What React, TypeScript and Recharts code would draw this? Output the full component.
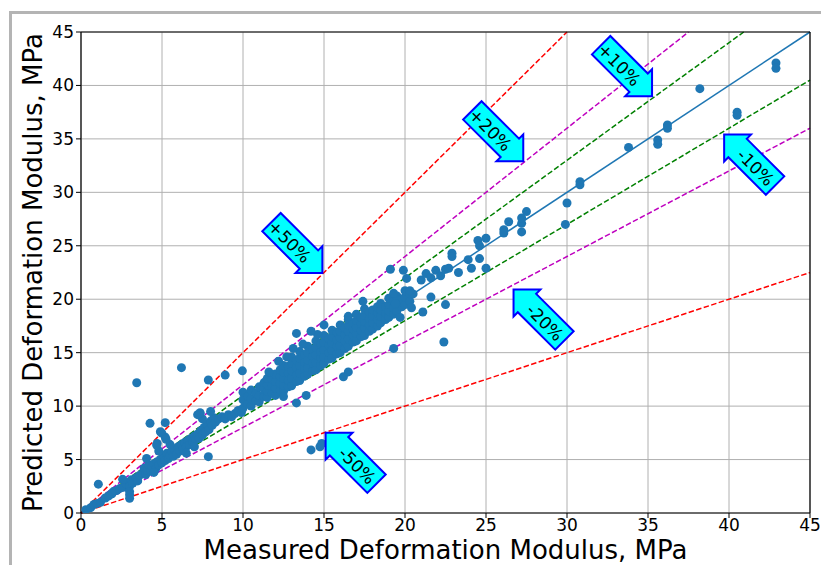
import React from "react";
import {
  CartesianGrid,
  ReferenceDot,
  ReferenceLine,
  Scatter,
  ScatterChart,
  XAxis,
  YAxis,
} from "recharts";

const lowBand: [number, number][] = [
  [0.3, 0.3], [0.6, 0.5], [0.8, 0.8], [1.0, 0.9], [1.2, 1.0], [1.5, 1.4], [1.7, 1.6],
  [1.9, 1.8], [2.0, 2.0], [2.2, 2.1], [2.4, 2.3], [2.6, 2.4], [2.8, 2.7], [3.0, 2.9],
  [3.0, 2.5], [3.0, 2.0], [3.1, 3.1], [3.2, 2.8], [3.4, 3.3], [3.5, 3.0], [3.6, 3.5],
  [3.8, 3.7], [3.9, 4.2], [4.0, 3.6], [4.1, 4.0], [4.2, 4.5], [4.3, 3.9], [4.4, 4.3],
  [4.5, 4.6], [4.6, 4.1], [4.7, 4.8], [4.8, 4.5], [4.9, 5.0], [5.0, 4.7], [5.1, 5.3],
  [5.2, 4.9], [5.3, 5.6], [5.4, 5.1], [5.5, 5.4], [5.6, 5.8], [5.7, 5.3], [5.8, 5.9],
  [5.9, 5.5], [6.0, 6.2], [6.1, 5.8], [6.2, 6.4], [6.3, 6.0], [6.4, 6.6], [6.5, 6.2],
  [6.6, 6.8], [6.7, 6.4], [6.8, 7.0], [6.9, 6.6], [7.0, 7.2], [7.1, 6.9], [7.2, 7.4],
  [7.3, 7.0], [7.4, 7.7], [7.5, 7.3], [7.6, 8.0], [7.7, 7.6], [7.8, 8.3], [7.9, 7.8],
  [8.0, 8.6], [8.1, 8.2], [8.2, 8.9], [8.3, 8.5], [8.5, 8.8], [8.7, 9.0], [8.9, 8.8],
  [9.1, 9.2], [9.3, 9.0], [9.5, 9.3], [9.7, 9.6], [9.9, 9.4], [6.5, 5.6], [7.0, 6.2],
  [4.5, 3.8], [5.5, 6.4], [4.8, 5.8], [7.5, 8.8], [8.0, 9.5], [7.35, 9.3], [7.2, 9.2],
  [4.9, 7.6], [5.2, 7.1], [4.7, 6.5], [4.05, 5.1], [3.0, 1.7], [1.9, 1.8], [1.7, 1.6],
];

const midBand: [number, number][] = [
  [10.0, 9.8], [10.0, 10.6], [10.0, 11.3], [10.3, 10.2], [10.3, 10.9], [10.5, 10.0],
  [10.5, 10.7], [10.5, 11.5], [10.8, 10.5], [10.8, 11.2], [11.0, 10.4], [11.0, 11.0],
  [11.0, 11.8], [11.3, 10.9], [11.3, 11.6], [11.3, 12.2], [11.5, 10.8], [11.5, 11.4],
  [11.5, 12.0], [11.5, 12.6], [11.8, 11.2], [11.8, 11.9], [11.8, 12.5], [12.0, 11.0],
  [12.0, 11.7], [12.0, 12.3], [12.0, 13.0], [12.3, 11.5], [12.3, 12.1], [12.3, 12.8],
  [12.3, 13.4], [12.5, 11.4], [12.5, 12.0], [12.5, 12.6], [12.5, 13.2], [12.5, 13.8],
  [12.8, 11.8], [12.8, 12.4], [12.8, 13.1], [12.8, 13.7], [13.0, 11.9], [13.0, 12.6],
  [13.0, 13.3], [13.0, 14.0], [13.0, 14.6], [13.3, 12.3], [13.3, 12.9], [13.3, 13.6],
  [13.3, 14.3], [13.5, 12.4], [13.5, 13.1], [13.5, 13.8], [13.5, 14.5], [13.5, 15.1],
  [13.8, 12.8], [13.8, 13.5], [13.8, 14.1], [13.8, 14.8], [14.0, 13.0], [14.0, 13.6],
  [14.0, 14.3], [14.0, 15.0], [14.0, 15.6], [14.3, 13.3], [14.3, 14.0], [14.3, 14.7],
  [14.3, 15.3], [14.5, 13.4], [14.5, 14.1], [14.5, 14.8], [14.5, 15.5], [14.5, 16.1],
  [14.8, 13.8], [14.8, 14.5], [14.8, 15.1], [14.8, 15.8], [15.0, 14.0], [15.0, 14.6],
  [15.0, 15.3], [15.0, 16.0], [15.0, 16.6], [15.3, 14.4], [15.3, 15.0], [15.3, 15.7],
  [15.3, 16.3], [15.5, 14.5], [15.5, 15.2], [15.5, 15.9], [15.5, 16.5], [15.5, 17.1],
  [15.8, 14.9], [15.8, 15.6], [15.8, 16.2], [15.8, 16.9], [16.0, 15.0], [16.0, 15.7],
  [16.0, 16.4], [16.0, 17.0], [16.0, 17.6], [16.3, 15.4], [16.3, 16.1], [16.3, 16.7],
  [16.3, 17.3], [16.5, 15.6], [16.5, 16.3], [16.5, 17.0], [16.5, 17.6], [16.5, 18.1],
  [16.8, 16.0], [16.8, 16.6], [16.8, 17.2], [16.8, 17.8], [17.0, 16.1], [17.0, 16.8],
  [17.0, 17.4], [17.0, 18.0], [17.0, 18.6], [17.3, 16.5], [17.3, 17.1], [17.3, 17.7],
  [17.3, 18.3], [17.5, 16.6], [17.5, 17.3], [17.5, 17.9], [17.5, 18.5], [17.5, 19.1],
  [17.8, 17.0], [17.8, 17.6], [17.8, 18.2], [17.8, 18.8], [18.0, 17.2], [18.0, 17.8],
  [18.0, 18.4], [18.0, 19.0], [18.3, 17.5], [18.3, 18.1], [18.3, 18.7], [18.3, 19.3],
  [18.5, 17.8], [18.5, 18.4], [18.5, 19.0], [18.5, 19.6], [18.8, 18.1], [18.8, 18.7],
  [18.8, 19.3], [19.0, 18.3], [19.0, 18.9], [19.0, 19.5], [19.0, 20.1], [19.3, 18.6],
  [19.3, 19.2], [19.3, 19.8], [19.5, 18.9], [19.5, 19.5], [19.5, 20.3], [19.8, 19.3],
  [19.8, 20.0], [20.0, 19.5], [20.0, 20.2], [20.0, 20.8], [20.3, 19.8], [20.3, 20.5],
  [12.2, 14.2], [13.1, 15.4], [13.7, 15.8], [14.6, 16.7], [11.6, 13.2], [12.7, 14.6],
];

const highBand: [number, number][] = [
  [20.1, 21.95], [20.4, 19.2], [20.5, 20.5], [20.3, 20.8], [19.7, 18.3], [19.4, 19.6],
  [19.1, 22.8], [19.9, 22.7], [21.1, 18.8], [21.6, 20.2], [21.0, 21.8], [21.3, 22.4],
  [21.6, 22.0], [21.9, 22.7], [22.2, 22.2], [22.5, 22.8], [22.7, 22.9], [22.9, 24.3],
  [22.9, 24.0], [23.3, 22.5], [22.5, 19.5], [22.4, 16.0], [23.9, 23.7], [24.1, 22.9],
  [24.6, 23.8], [24.5, 25.5], [24.6, 25.0], [25.0, 25.7], [25.0, 22.9], [26.1, 26.5],
  [26.1, 26.2], [26.4, 27.25], [27.2, 26.3], [27.2, 27.1], [27.2, 27.6], [27.5, 28.2],
  [29.9, 27.0], [30.0, 29.0], [30.8, 31.0], [30.8, 30.7], [33.8, 34.2], [35.6, 34.9],
  [35.6, 34.5], [36.2, 36.3], [36.2, 36.0], [38.2, 39.7], [40.5, 37.5], [40.5, 37.2],
  [42.9, 42.1], [42.9, 41.6],
];

const outliers: [number, number][] = [
  [3.44, 12.19], [6.2, 13.6], [7.86, 12.44], [8.9, 12.9], [9.96, 13.3], [4.26, 8.39],
  [5.2, 8.45], [4.98, 7.48], [5.25, 6.9], [4.67, 6.36], [1.07, 2.7], [3.0, 1.37],
  [2.57, 3.15], [7.86, 5.27], [7.35, 9.38], [13.3, 16.8], [14.2, 17.0], [15.0, 17.6],
  [16.5, 18.4], [17.4, 19.8], [19.3, 20.55], [19.3, 15.4], [16.5, 13.2], [16.2, 12.75],
  [13.9, 11.0], [13.3, 10.3], [12.5, 10.9], [14.2, 5.9], [14.75, 6.2], [14.86, 6.5],
];

const ticks = [0, 5, 10, 15, 20, 25, 30, 35, 40, 45];

// error bands: y = k * x
const bandFactors = [1.5, 1.2, 1.1, 0.9, 0.8, 0.5];
const bandColors = ["#ff0000", "#bf00bf", "#008000", "#008000", "#bf00bf", "#ff0000"];

// annotation arrows: label, tip (measured, predicted), pointing direction
const arrowLabels = ["+50%", "+20%", "+10%", "-10%", "-20%", "-50%"];
const arrowTipX = [14.9, 27.3, 35.25, 39.7, 26.7, 15.1];
const arrowTipY = [22.45, 32.9, 39.0, 35.4, 20.9, 7.5];
const arrowRight = [true, true, true, false, false, false];

const points = [...lowBand, ...midBand, ...highBand, ...outliers].map(([x, y]) => ({ x, y }));

const FONT = "DejaVu Sans, Verdana, sans-serif";

function Dot(props: any) {
  const { cx, cy } = props;
  if (cx == null || cy == null) return null;
  return <circle cx={cx} cy={cy} r={4.5} fill="#1f77b4" />;
}

function makeArrow(label: string, right: boolean) {
  return (props: any) => {
    const { cx, cy } = props;
    if (cx == null || cy == null) return null;
    const h = 13; // half body height
    const hh = 19; // head half width / head length
    const body = 53;
    const s = right ? -1 : 1;
    const pts = [
      [0, 0],
      [s * hh, -hh],
      [s * hh, -h],
      [s * (hh + body), -h],
      [s * (hh + body), h],
      [s * hh, h],
      [s * hh, hh],
    ]
      .map((p) => p.join(","))
      .join(" ");
    return (
      <g transform={`translate(${cx},${cy}) rotate(45)`}>
        <polygon points={pts} fill="#00ffff" stroke="#0000ff" strokeWidth={2} strokeLinejoin="miter" />
        <text
          x={s * (hh + body / 2)}
          y={1}
          textAnchor="middle"
          dominantBaseline="central"
          fontSize={17}
          fontFamily={FONT}
          fill="#000"
        >
          {label}
        </text>
      </g>
    );
  };
}

function XLabel(props: any) {
  const vb = props.viewBox || {};
  return (
    <text
      x={vb.x + vb.width / 2}
      y={vb.y + 46}
      textAnchor="middle"
      fontSize={26}
      fontFamily={FONT}
      fill="#000"
    >
      Measured Deformation Modulus, MPa
    </text>
  );
}

function YLabel(props: any) {
  const vb = props.viewBox || {};
  const cx = 42;
  const cy = vb.y + vb.height / 2;
  return (
    <text
      x={cx}
      y={cy}
      transform={`rotate(-90, ${cx}, ${cy})`}
      textAnchor="middle"
      fontSize={26}
      fontFamily={FONT}
      fill="#000"
    >
      Predicted Deformation Modulus, MPa
    </text>
  );
}

export default function App() {
  return (
    <div style={{ position: "absolute", left: 0, top: 0, width: 821, height: 565, background: "#fff" }}>
      <div
        style={{
          position: "absolute",
          left: 9,
          top: 11,
          width: 830,
          height: 600,
          borderLeft: "3px solid #b4b4b4",
          borderTop: "3px solid #b4b4b4",
        }}
      />
      <div style={{ position: "absolute", left: 0, top: 0 }}>
        <ScatterChart width={821} height={565} margin={{ top: 32, right: 11, bottom: 0, left: 10 }}>
          <CartesianGrid stroke="#b0b0b0" strokeWidth={1} horizontalValues={ticks} verticalValues={ticks} />
          <XAxis
            type="number"
            dataKey="x"
            domain={[0, 45]}
            ticks={ticks}
            allowDataOverflow
            height={52}
            tick={{ fill: "#000", fontSize: 17, fontFamily: FONT }}
            tickSize={5}
            tickMargin={1}
            axisLine={{ stroke: "#000", strokeWidth: 1.2 }}
            tickLine={{ stroke: "#000" }}
            label={<XLabel />}
          />
          <YAxis
            type="number"
            dataKey="y"
            domain={[0, 45]}
            ticks={ticks}
            allowDataOverflow
            width={71}
            tick={{ fill: "#000", fontSize: 17, fontFamily: FONT }}
            tickSize={5}
            tickMargin={2}
            axisLine={{ stroke: "#000", strokeWidth: 1.2 }}
            tickLine={{ stroke: "#000" }}
            label={<YLabel />}
          />
          <Scatter data={points} shape={<Dot />} isAnimationActive={false} />
          <ReferenceLine
            segment={[{ x: 0, y: 0 }, { x: 45, y: 45 }]}
            stroke="#1f77b4"
            strokeWidth={1.5}
          />
          {bandFactors.map((k, i) => {
            const end = Math.min(45, 45 / k);
            return (
              <ReferenceLine
                key={"b" + i}
                segment={[{ x: 0, y: 0 }, { x: end, y: end * k }]}
                stroke={bandColors[i]}
                strokeWidth={1.5}
                strokeDasharray="5.5 2.4"
              />
            );
          })}
          <ReferenceLine y={45} stroke="#000" strokeWidth={1.2} />
          <ReferenceLine x={45} stroke="#000" strokeWidth={1.2} />
          {arrowLabels.map((label, i) => (
            <ReferenceDot
              key={label}
              x={arrowTipX[i]}
              y={arrowTipY[i]}
              r={0}
              shape={makeArrow(label, arrowRight[i])}
            />
          ))}
        </ScatterChart>
      </div>
    </div>
  );
}
